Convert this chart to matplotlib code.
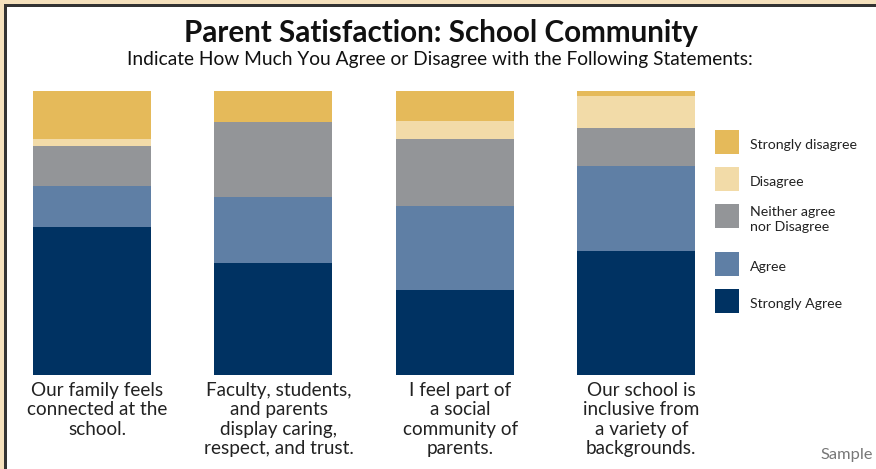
import matplotlib
matplotlib.use("Agg")
import matplotlib.pyplot as plt
from matplotlib.patches import Rectangle
import numpy as np

categories = [
    "Our family feels\nconnected at the\nschool.",
    "Faculty, students,\nand parents\ndisplay caring,\nrespect, and trust.",
    "I feel part of\na social\ncommunity of\nparents.",
    "Our school is\ninclusive from\na variety of\nbackgrounds.",
]
levels = ["Strongly Agree", "Agree", "Neither agree\nnor Disagree", "Disagree", "Strongly disagree"]
strongly_agree = [52.1, 39.3, 29.8, 43.8]
agree = [14.4, 23.2, 29.8, 29.9]
neither = [14.1, 26.7, 23.4, 13.2]
disagree = [2.5, 0.0, 6.4, 11.4]
strongly_disagree = [16.9, 10.9, 10.6, 1.8]
series = [strongly_agree, agree, neither, disagree, strongly_disagree]
colors = ["#003262", "#5F7FA5", "#939598", "#F2DBA8", "#E5BA5A"]

W, H = 876, 469
fig = plt.figure(figsize=(W / 100, H / 100), dpi=100)
fig.patch.set_facecolor("#F5E1BD")

# frame: dark line + white interior
fig.patches.append(Rectangle((4 / W, -0.1), 1.2, 1 - 4 / H + 0.1, transform=fig.transFigure,
                             facecolor="#333333", edgecolor="none", zorder=-20))
fig.patches.append(Rectangle((7 / W, -0.1), 1.2, 1 - 7 / H + 0.1, transform=fig.transFigure,
                             facecolor="white", edgecolor="none", zorder=-19))

bw = 0.652
x = np.arange(len(categories))
left_px, right_px, top_px, bot_px = 33, 695, 91, 375
ax = fig.add_axes([left_px / W, 1 - bot_px / H, (right_px - left_px) / W, (bot_px - top_px) / H])
ax.set_zorder(5)
ax.set_xlim(-bw / 2, len(categories) - 1 + bw / 2)
ax.set_ylim(0, 100)
ax.set_axis_off()

bottom = np.zeros(len(categories))
for vals, c in zip(series, colors):
    ax.bar(x, vals, width=bw, bottom=bottom, color=c, edgecolor="none")
    bottom += np.array(vals)

for xi, lab in zip(x, categories):
    ax.text(xi + 0.03, -2.6, lab, ha="center", va="top", fontsize=13.6,
            family="Lato", color="#222222", linespacing=1.15, clip_on=False)

fig.text(441 / W, 1 - 33 / H, "Parent Satisfaction: School Community", ha="center", va="center",
         fontsize=21.3, fontweight="bold", family="Lato", color="#111111")
fig.text(440 / W, 1 - 60 / H, "Indicate How Much You Agree or Disagree with the Following Statements:",
         ha="center", va="center", fontsize=13.8, family="Lato", color="#111111")

# legend
leg_items = list(zip(levels, colors))[::-1]
leg_tops = [130, 167, 204, 252, 289]
for (lab, c), t in zip(leg_items, leg_tops):
    fig.patches.append(Rectangle((715 / W, 1 - (t + 24) / H), 24 / W, 24 / H,
                                 transform=fig.transFigure, facecolor=c, edgecolor="none"))
    fig.text(750 / W, 1 - (t + 15) / H, lab, ha="left", va="center", fontsize=10.2,
             family="Lato", color="#222222", linespacing=1.3)

fig.text(873 / W, 1 - 455 / H, "Sample", ha="right", va="center", fontsize=11.8,
         family="Lato", color="#777777")

fig.savefig("out.png", dpi=100, facecolor=fig.get_facecolor())
